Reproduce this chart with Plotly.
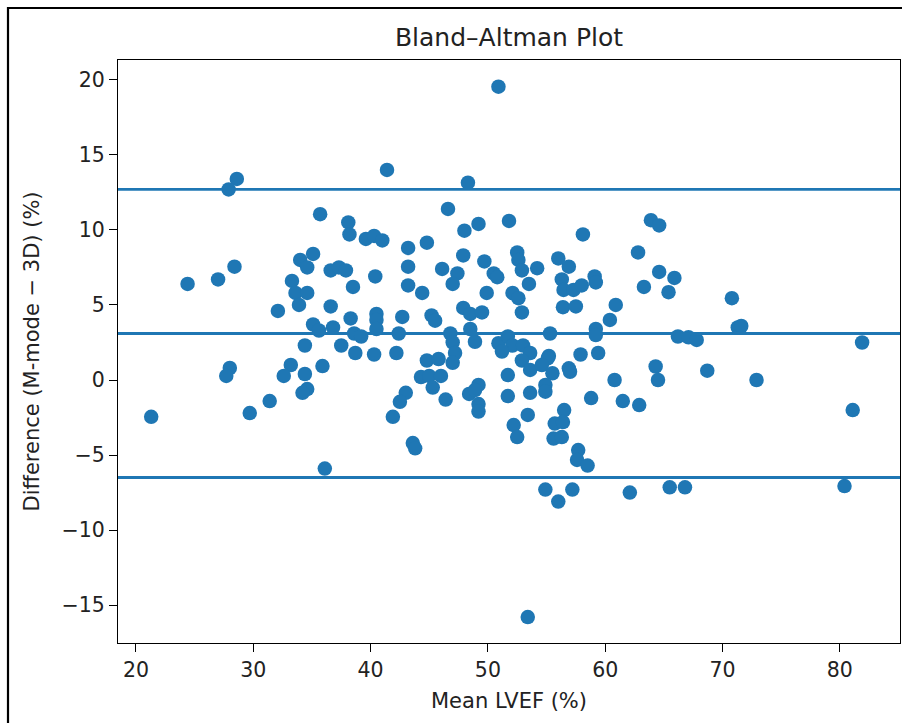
import plotly.graph_objects as go

# Mean LVEF (%) of each subject
mean_lvef = [
    28.6, 27.9, 24.4, 27.0, 28.4, 35.7, 34.0, 35.1, 34.6, 33.3,
    33.6, 34.6, 33.9, 32.1, 35.1, 34.4, 41.4, 48.3, 46.6, 38.1,
    38.2, 48.0, 49.2, 39.6, 40.3, 41.0, 43.2, 44.8, 36.6, 37.3,
    37.9, 40.4, 43.2, 46.1, 47.4, 47.0, 47.9, 49.7, 43.2, 44.4,
    38.5, 36.6, 47.9, 48.5, 49.5, 38.3, 40.5, 40.5, 42.7, 45.2,
    45.5, 35.6, 36.8, 40.5, 38.6, 39.2, 42.4, 46.8, 48.5, 48.9,
    47.0, 37.5, 38.7, 40.3, 42.2, 47.2, 44.8, 45.8, 47.0, 50.9,
    51.8, 58.1, 63.9, 64.6, 62.8, 64.6, 63.3, 50.5, 50.8, 52.5,
    52.6, 52.9, 54.2, 53.5, 56.0, 56.9, 56.3, 56.45, 57.3, 58.0,
    59.1, 59.2, 49.9, 52.1, 52.6, 52.9, 56.4, 57.5, 60.9, 60.4,
    55.3, 59.2, 59.2, 50.9, 51.7, 52.1, 53.0, 53.6, 51.2, 55.2,
    57.9, 59.4, 65.9, 65.4, 70.8, 71.3, 71.6, 66.2, 67.1, 67.8,
    81.9, 21.3, 28.0, 27.7, 33.2, 32.6, 34.4, 35.9, 34.6, 34.2,
    31.4, 29.7, 36.1, 44.3, 45.0, 46.0, 45.3, 46.4, 43.0, 42.5,
    41.9, 43.6, 43.8, 49.2, 48.4, 49.2, 49.2, 52.9, 53.6, 55.1,
    54.6, 55.5, 56.9, 57.0, 51.7, 48.9, 54.9, 54.9, 51.7, 53.6,
    53.4, 58.8, 60.8, 61.5, 62.9, 64.3, 64.5, 56.5, 55.7, 56.4,
    55.6, 56.3, 52.2, 52.5, 57.7, 57.6, 58.5, 54.9, 56.0, 57.2,
    62.1, 53.4, 68.7, 72.9, 81.1, 65.5, 66.8, 80.4,
]

# Difference M-mode minus 3D (%)
difference = [
    13.4, 12.7, 6.4, 6.7, 7.55, 11.05, 8.0, 8.4, 7.5, 6.6,
    5.8, 5.8, 5.0, 4.6, 3.7, 2.3, 14.0, 13.15, 11.4, 10.5,
    9.7, 9.95, 10.4, 9.4, 9.6, 9.3, 8.8, 9.15, 7.3, 7.5,
    7.3, 6.9, 7.55, 7.4, 7.1, 6.4, 8.3, 7.9, 6.3, 5.8,
    6.2, 4.9, 4.8, 4.4, 4.5, 4.1, 4.4, 4.0, 4.2, 4.3,
    3.95, 3.3, 3.5, 3.4, 3.1, 2.9, 3.1, 3.1, 3.4, 2.55,
    2.5, 2.3, 1.8, 1.7, 1.8, 1.8, 1.3, 1.4, 1.15, 19.55,
    10.6, 9.7, 10.65, 10.3, 8.5, 7.2, 6.2, 7.1, 6.85, 8.5,
    8.0, 7.3, 7.45, 6.4, 8.1, 7.55, 6.7, 6.0, 6.0, 6.3,
    6.9, 6.5, 5.8, 5.8, 5.45, 4.5, 4.85, 4.9, 5.0, 4.0,
    3.1, 3.4, 3.0, 2.45, 2.9, 2.3, 2.3, 1.8, 1.9, 1.6,
    1.7, 1.8, 6.8, 5.85, 5.45, 3.5, 3.6, 2.9, 2.85, 2.67,
    2.5, -2.45, 0.8, 0.27, 1.0, 0.27, 0.4, 0.93, -0.6, -0.85,
    -1.4, -2.2, -5.9, 0.2, 0.27, 0.27, -0.5, -1.3, -0.85, -1.45,
    -2.45, -4.2, -4.55, -0.33, -0.93, -1.6, -2.1, 1.3, 0.67, 1.45,
    1.0, 0.45, 0.78, 0.55, 0.33, -0.67, -0.33, -0.78, -1.07, -0.85,
    -2.33, -1.2, 0.0, -1.4, -1.67, 0.9, 0.0, -2.0, -2.9, -2.8,
    -3.9, -3.8, -3.0, -3.8, -4.67, -5.33, -5.7, -7.3, -8.1, -7.3,
    -7.5, -15.8, 0.62, 0.0, -2.0, -7.15, -7.15, -7.07,
]

# Bias and limits of agreement (%)
bias = 3.1
upper_loa = 12.7
lower_loa = -6.5

x_ticks = [20, 30, 40, 50, 60, 70, 80]
y_ticks = [-15, -10, -5, 0, 5, 10, 15, 20]

blue = "#1f77b4"
font_family = "DejaVu Sans, Liberation Sans, sans-serif"

W, H = 902, 723
L, R, T, B = 118, 900, 60, 643
pw, ph = R - L, B - T

fig = go.Figure()
fig.add_trace(go.Scatter(
    x=mean_lvef, y=difference, mode="markers",
    marker=dict(color=blue, size=14.5, line=dict(width=0)),
    showlegend=False, hoverinfo="x+y",
))

for level in [upper_loa, bias, lower_loa]:
    fig.add_shape(type="line", xref="paper", x0=0, x1=1, yref="y",
                  y0=level, y1=level, line=dict(color=blue, width=2.8),
                  layer="above")

# outer frame (its right/bottom edges lie outside the reference crop)
fig.add_shape(type="rect", xref="paper", yref="paper",
              x0=(8 - L) / pw, x1=(W + 30 - L) / pw,
              y0=-(H + 30 - B) / ph, y1=(B - 8) / ph,
              line=dict(color="black", width=2.2), fillcolor="rgba(0,0,0,0)",
              layer="below")

axis_common = dict(
    showgrid=False, zeroline=False, showline=True, mirror=True,
    linecolor="black", linewidth=1.2, ticks="outside", ticklen=8,
    tickwidth=1.2, tickcolor="black",
    tickfont=dict(family=font_family, size=20.5, color="#222"),
)

fig.update_layout(
    width=W, height=H,
    margin=dict(l=L, r=W - R, t=T, b=H - B, autoexpand=False),
    paper_bgcolor="white", plot_bgcolor="white",
    font=dict(family=font_family, color="#222"),
    title=dict(text="Bland–Altman Plot", x=(L + R) / 2 / W, xanchor="center",
               y=1 - 37 / H, yanchor="middle",
               font=dict(family=font_family, size=25, color="#222")),
    xaxis=dict(range=[18.47, 85.13], tickvals=x_ticks,
               title=dict(text="Mean LVEF (%)", standoff=12,
                          font=dict(family=font_family, size=21, color="#222")),
               **axis_common),
    yaxis=dict(range=[-17.53, 21.33], tickvals=y_ticks,
               title=dict(text="Difference (M-mode − 3D) (%)", standoff=16,
                          font=dict(family=font_family, size=21, color="#222")),
               **axis_common),
)

fig.write_html(
    "out.html",
    config={"displayModeBar": False},
    post_script="document.body.style.margin='0';document.body.style.overflow='hidden';",
)
